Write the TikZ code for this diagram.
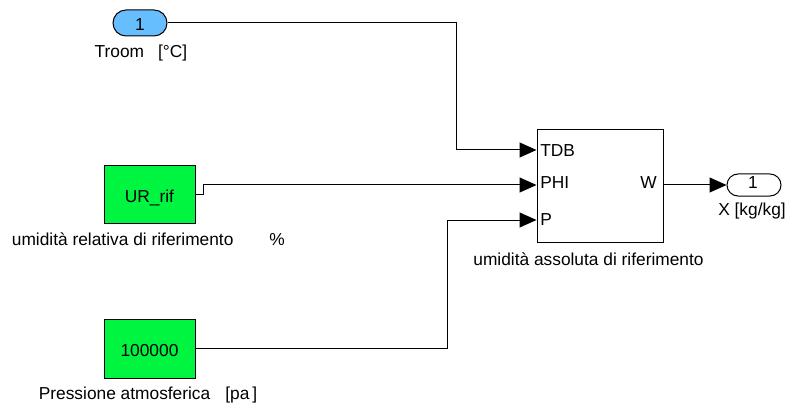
\documentclass[tikz,border=0pt]{standalone}
\usepackage{fontspec}
\setmainfont{Liberation Sans}
\usetikzlibrary{arrows.meta}

\definecolor{constgreen}{RGB}{0,245,64}
\definecolor{inblue}{RGB}{102,190,255}

\tikzset{
  wire/.style={line width=0.75pt},
  sig/.style={wire, -{Triangle[length=12.75pt,width=11.25pt]}},
  constblock/.style={draw, line width=0.75pt, fill=constgreen, minimum width=68.25pt, inner sep=0pt},
  port/.style={draw, line width=0.75pt, minimum width=40.5pt, inner sep=0pt},
  txt/.style={inner sep=0pt, anchor=base}
}

\begin{document}
\begin{tikzpicture}[x=0.75pt, y=-0.75pt, font=\fontsize{13}{15}\selectfont]

\useasboundingbox (0,0) rectangle (790,403);

% Blocks

\node [port, fill=inblue, minimum height=19.5pt, rounded corners=9.75pt] (in1) at (140,23) {};
\node [txt] (in1num) at (140,31) {1};
\node [txt] (in1lbl) at (141,58) {Troom\hspace{10.5pt}[°C]};

\node [constblock, minimum height=42.75pt] (ur) at (149.5,194.5) {};
\node [txt] (urtxt) at (149.5,203) {UR\_rif};
\node [txt] (urlbl) at (148.4,245) {umidità relativa di riferimento\hspace{27pt}\%};

\node [constblock, minimum height=44.25pt] (atm) at (149.5,348.5) {};
\node [txt] (atmtxt) at (149.5,356) {100000};
\node [txt] (atmlbl) at (148,399) {Pressione atmosferica\hspace{11.25pt}[pa\,]};

\node [draw, line width=0.75pt, minimum width=94.5pt, minimum height=84pt] (psy) at (600,186) {};
\node [txt] (psylbl) at (588.5,265) {umidità assoluta di riferimento};
\node [txt, anchor=base west] (tdb) at (540,156.7) {TDB};
\node [txt, anchor=base west] (phi) at (540,189) {PHI};
\node [txt, anchor=base west] (p) at (540,225) {P};
\node [txt, anchor=base east] (w) at (657,189) {W};

\node [port, fill=white, minimum height=16.5pt, rounded corners=8.25pt] (out1) at (754,185) {};
\node [txt] (out1num) at (753,188.3) {1};
\node [txt] (out1lbl) at (752,215) {X [kg/kg]};

% Ports
\coordinate (tdbIn) at (psy.west |- 0,150);
\coordinate (phiIn) at (psy.west |- 0,185);
\coordinate (pIn) at (psy.west |- 0,220);
\coordinate (wOut) at (psy.east |- 0,185);

% Lines
\draw [sig] (in1.east) -- ++(288.5,0) |- (tdbIn);
\draw [sig] (ur.east) -- ++(8,0) |- (phiIn);
\draw [sig] (atm.east) -- ++(252,0) |- (pIn);
\draw [sig] (wOut) -- (out1.west);
\end{tikzpicture}
\end{document}
